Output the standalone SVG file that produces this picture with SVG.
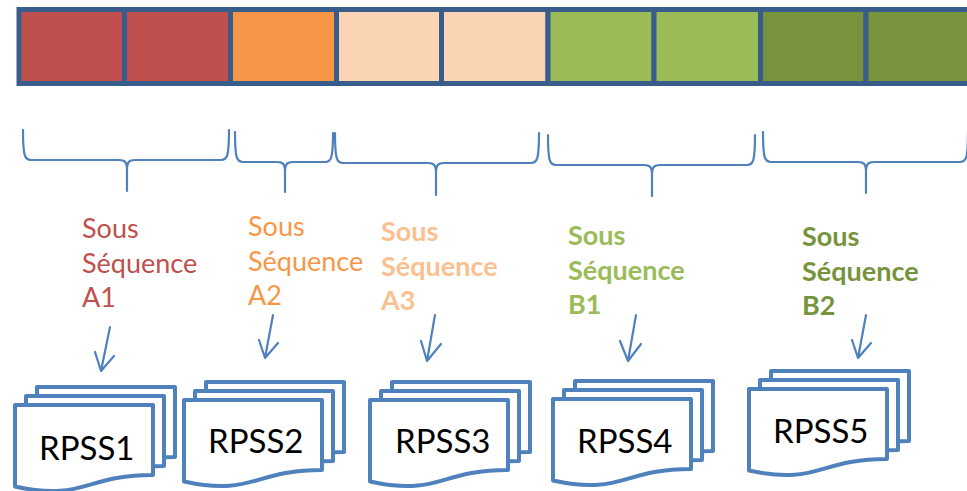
<svg xmlns="http://www.w3.org/2000/svg" xmlns:xlink="http://www.w3.org/1999/xlink" width="967" height="491" viewBox="0 0 967 491">
<style>
.cell{stroke:#385D8A;stroke-width:5}
.brace{fill:none;stroke:#4F81BD;stroke-width:2.2;stroke-linecap:round}
.arrow{fill:none;stroke:#4F81BD;stroke-width:2.2;stroke-linecap:round;stroke-linejoin:round}
.doc{fill:#FFFFFF;stroke:#4F81BD;stroke-width:4;stroke-linejoin:round}
.lbl{font-family:Lato,"Liberation Sans",sans-serif;font-size:27px}
.b{font-weight:bold}
.rp{font-family:Lato,"Liberation Sans",sans-serif;font-size:33px;fill:#000000}
</style>
<defs>
<path id="doc" class="doc" d="M0,0 H138 V70 C69,70 69,96.6 0,81.5 Z"/>
<g id="stack">
<use xlink:href="#doc" href="#doc" x="22" y="-18"/>
<use xlink:href="#doc" href="#doc" x="11" y="-9"/>
<use xlink:href="#doc" href="#doc" x="0" y="0"/>
</g>
</defs>
<g id="bar">
<rect class="cell" x="19" y="9.5" width="105.5" height="74" fill="#C0504D"/>
<rect class="cell" x="124.5" y="9.5" width="106" height="74" fill="#C0504D"/>
<rect class="cell" x="230.5" y="9.5" width="106" height="74" fill="#F79646"/>
<rect class="cell" x="336.5" y="9.5" width="105" height="74" fill="#FBD4B4"/>
<rect class="cell" x="441.5" y="9.5" width="106.5" height="74" fill="#FBD4B4"/>
<rect class="cell" x="548" y="9.5" width="106" height="74" fill="#9BBB59"/>
<rect class="cell" x="654" y="9.5" width="106.5" height="74" fill="#9BBB59"/>
<rect class="cell" x="760.5" y="9.5" width="105.5" height="74" fill="#77933C"/>
<rect class="cell" x="866" y="9.5" width="106" height="74" fill="#77933C"/>
</g>
<g id="connectors">
<path class="brace" d="M23,130 C23,157 25,160 31,160 L119,160 C125,160 127,162 127,170 L127,191 M127,170 C127,162 129,160 135,160 L221,160 C227,160 229,157 229,130"/>
<path class="brace" d="M235,132 C235,159 237,162 243,162 L277,162 C283,162 285,164 285,172 L285,192 M285,172 C285,164 287,162 293,162 L325,162 C331,162 333,159 333,133"/>
<path class="brace" d="M335,133 C335,160 337,163 343,163 L428,163 C434,163 436,165 436,173 L436,195 M436,173 C436,165 438,163 444,163 L531,163 C537,163 539,160 539,133"/>
<path class="brace" d="M548,135 C548,162 550,165 556,165 L644,165 C650,165 652,167 652,175 L652,196 M652,175 C652,167 654,165 660,165 L747,165 C753,165 755,162 755,135"/>
<path class="brace" d="M763,132 C763,159 765,162 771,162 L858,162 C864,162 866,164 866,172 L866,193 M866,172 C866,164 868,162 874,162 L960,162 C966,162 968,159 968,132"/>
<path class="arrow" d="M110,327 L101,371 M95,352 L101,371 L114,356"/>
<path class="arrow" d="M273,315 L265,358 M259,340 L265,358 L278,343"/>
<path class="arrow" d="M435,315 L427,361 M421,341 L427,361 L441,344"/>
<path class="arrow" d="M636,315 L628,361 M620,341 L628,361 L641,344"/>
<path class="arrow" d="M866,315 L858,358 M852,340 L858,358 L871,343"/>
</g>
<g id="labelA1" class="lbl" fill="#C0504D">
<text x="82" y="238">Sous</text>
<text x="82" y="273">Séquence</text>
<text x="82" y="307">A1</text>
</g>
<g id="labelA2" class="lbl" fill="#F79646">
<text x="248" y="236">Sous</text>
<text x="248" y="271">Séquence</text>
<text x="248" y="305">A2</text>
</g>
<g id="labelA3" class="lbl b" fill="#FAC090">
<text x="381" y="241">Sous</text>
<text x="381" y="276">Séquence</text>
<text x="381" y="310">A3</text>
</g>
<g id="labelB1" class="lbl b" fill="#9BBB59">
<text x="568" y="245">Sous</text>
<text x="568" y="280">Séquence</text>
<text x="568" y="314">B1</text>
</g>
<g id="labelB2" class="lbl b" fill="#77933C">
<text x="802" y="246">Sous</text>
<text x="802" y="281">Séquence</text>
<text x="802" y="315">B2</text>
</g>
<g id="RPSS1"><use xlink:href="#stack" href="#stack" x="15" y="405"/><text class="rp" x="39" y="460">RPSS1</text></g>
<g id="RPSS2"><use xlink:href="#stack" href="#stack" x="184" y="400"/><text class="rp" x="208" y="453">RPSS2</text></g>
<g id="RPSS3"><use xlink:href="#stack" href="#stack" x="370" y="400"/><text class="rp" x="395" y="453">RPSS3</text></g>
<g id="RPSS4"><use xlink:href="#stack" href="#stack" x="553" y="399"/><text class="rp" x="577" y="453">RPSS4</text></g>
<g id="RPSS5"><use xlink:href="#stack" href="#stack" x="749" y="389"/><text class="rp" x="773" y="443">RPSS5</text></g>
</svg>
